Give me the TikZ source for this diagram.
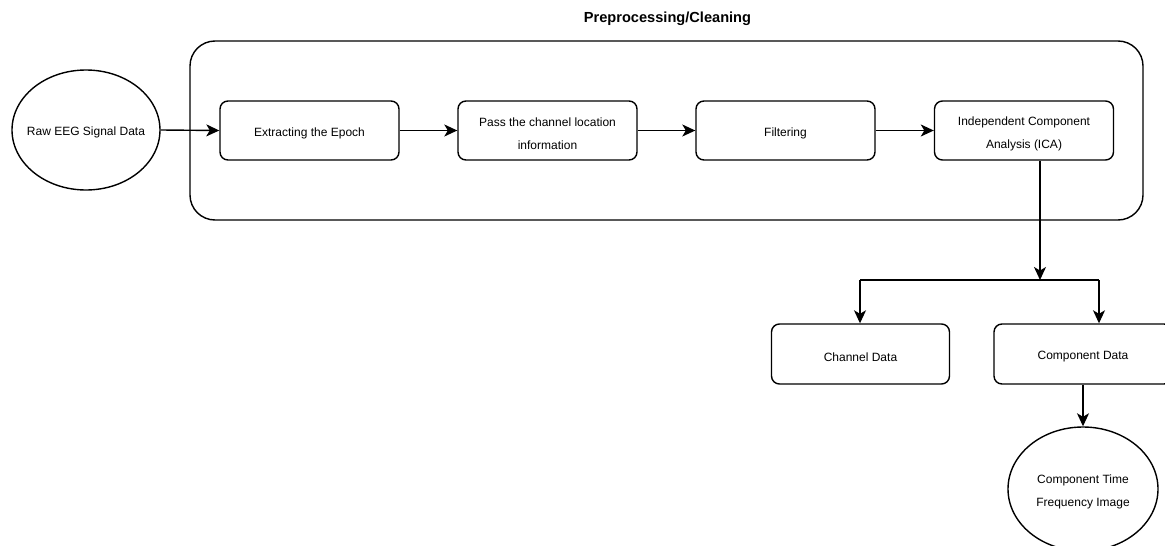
\documentclass[tikz,border=0pt]{standalone}
\usepackage{fontspec}
\setmainfont{Liberation Sans}
\usetikzlibrary{arrows.meta,shapes.geometric}
\begin{document}
\begin{tikzpicture}[x=1pt,y=-1pt,
  line width=1.4pt,
  lbl/.style={align=center,inner sep=0pt,yshift=-3pt,font=\fontsize{12}{23}\selectfont},
  box/.style={draw,rounded corners=8pt,minimum width=179pt,minimum height=59pt,inner sep=0pt},
  oval/.style={draw,ellipse,minimum width=148pt,minimum height=120pt,inner sep=0pt},
  arr/.style={-{Stealth[length=13pt,width=12pt,inset=3.5pt]}}
]
\useasboundingbox (0,0) rectangle (1165,546);
\fill[white] (0,0) rectangle (1165,546);
\node[font=\bfseries\fontsize{14.6}{16}\selectfont] (title) at (667.5,19) {Preprocessing/Cleaning};
\draw[rounded corners=25pt] (190,41) rectangle (1143,220);
\node[oval,label={[lbl,yshift=1pt]center:Raw EEG Signal Data}] (raw) at (86,130) {};
\node[box,label={[lbl]center:Extracting the Epoch}] (ext) at (309.5,130.5) {};
\node[box,label={[lbl]center:Pass the channel location\\information}] (pass) at (547.5,130.5) {};
\node[box,label={[lbl]center:Filtering}] (filt) at (785.5,130.5) {};
\node[box,label={[lbl]center:Independent Component\\Analysis (ICA)}] (ica) at (1024,130.5) {};
\node[box,minimum width=178pt,minimum height=60pt,label={[lbl]center:Channel Data}] (chan) at (860.5,354) {};
\node[box,minimum width=178pt,minimum height=60pt,label={[lbl]center:Component Data}] (comp) at (1083,354) {};
\node[oval,minimum width=150pt,minimum height=124pt,label={[lbl]center:Component Time\\Frequency Image}] (cti) at (1083,489) {};
\coordinate (split) at (1040,280);
\coordinate (sl) at (860,280);
\coordinate (sr) at (1099,280);
\draw[arr] (raw.east) -- (ext.west);
\draw[arr] (ext.east) -- (pass.west);
\draw[arr] (pass.east) -- (filt.west);
\draw[arr] (filt.east) -- (ica.west);
\draw[arr] (ica.south -| split) -- (split);
\draw (sl) -- (sr);
\draw[arr] (sl) -- (sl |- chan.north);
\draw[arr] (sr) -- (sr |- comp.north);
\draw[arr] (comp.south) -- (cti.north);
\end{tikzpicture}
\end{document}
